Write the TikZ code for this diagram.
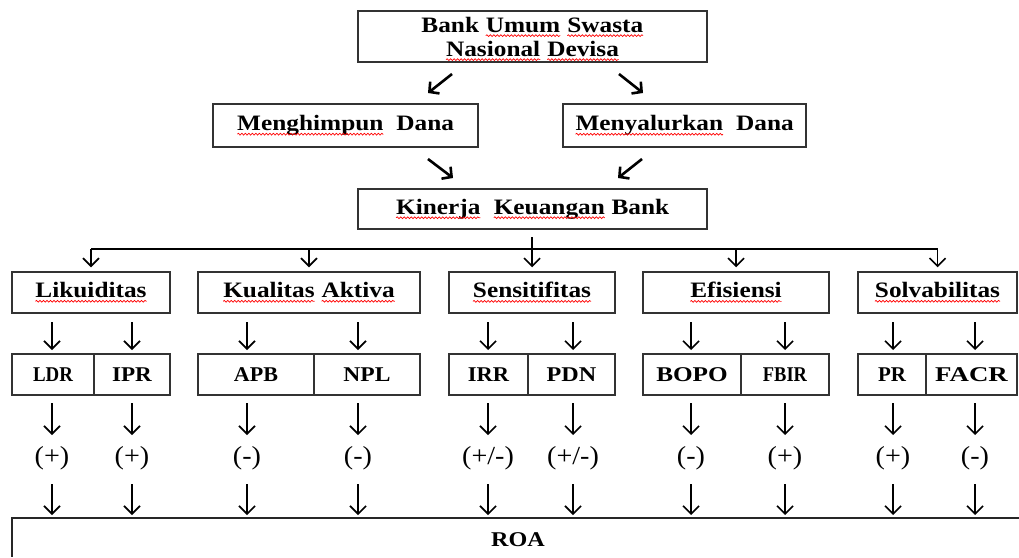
\documentclass[tikz,border=0pt]{standalone}
\usepackage{graphicx}
\usepackage{fontspec}
\setmainfont{Liberation Serif}
\newfontfamily\widefont[FakeStretch=1.15]{Liberation Serif}
\usetikzlibrary{arrows.meta,decorations.pathmorphing}
\newcommand\rw[1]{\tikz[baseline=(w.base)]{\node[rectangle, draw=none, inner sep=0pt, outer sep=0pt, minimum width=0pt, minimum height=0pt, text depth=] (w) {#1};
  \draw[red, line width=0.7pt, decorate, decoration={snake, amplitude=0.9pt, segment length=3.5pt}] ([yshift=-3.5pt]w.base west) -- ([yshift=-3.5pt]w.base east);}}
\newcommand\sx[2]{\scalebox{#1}[1]{#2}}
\tikzset{
  box/.style={draw=black!80, line width=1.5pt, rectangle, inner sep=0pt,
    font=\widefont\bfseries\fontsize{22}{24}\selectfont, align=center},
  lbl/.style={draw=black!80, line width=1.5pt, rectangle, inner sep=0pt,
    minimum height=41pt, font=\bfseries\fontsize{21}{24}\selectfont},
  sgn/.style={inner sep=0pt, font=\fontsize{26}{28}\selectfont},
  arr/.style={line width=1.6pt, -{Straight Barb[length=8pt,width=16pt]}},
  darr/.style={line width=2.6pt, -{Straight Barb[length=7pt,width=15pt]}},
  brk/.style={line width=2pt},
}
\begin{document}
\begin{tikzpicture}[x=1pt,y=-1pt]
\useasboundingbox (0,0) rectangle (1019,557);
% top
\node[box, minimum width=349pt, minimum height=51pt, text depth=0pt] (bank) at (532.5,36.5)
  {Bank \rw{Umum} \rw{Swasta}\\\rw{Nasional} \rw{Devisa}};
\node[box, minimum width=265pt, minimum height=43pt] (himp) at (345.5,125.5)
  {\rw{Menghimpun}\ \ Dana};
\node[box, minimum width=243pt, minimum height=43pt] (salur) at (684.5,125.5)
  {\rw{Menyalurkan}\ \ Dana};
\node[box, minimum width=349pt, minimum height=40pt] (kin) at (532.5,209)
  {\rw{Kinerja}\ \ \rw{Keuangan} Bank};
\coordinate (d1a) at (452,74); \coordinate (d1b) at (428,93);
\coordinate (d2a) at (619,74); \coordinate (d2b) at (643,93);
\coordinate (d3a) at (428,159); \coordinate (d3b) at (453,178);
\coordinate (d4a) at (642,159); \coordinate (d4b) at (618,178);
\draw[darr] (d1a) -- (d1b);
\draw[darr] (d2a) -- (d2b);
\draw[darr] (d3a) -- (d3b);
\draw[darr] (d4a) -- (d4b);
% second row
\node[box, minimum width=158pt, minimum height=41pt] (liku) at (91,292.5) {\rw{Likuiditas}};
\node[box, minimum width=222pt, minimum height=41pt] (kual) at (309,292.5) {\rw{Kualitas} \rw{Aktiva}};
\node[box, minimum width=166pt, minimum height=41pt] (sens) at (532,292.5) {\rw{Sensitifitas}};
\node[box, minimum width=186pt, minimum height=41pt] (efis) at (736,292.5) {\rw{Efisiensi}};
\node[box, minimum width=159pt, minimum height=41pt] (solv) at (937.5,292.5) {\rw{Solvabilitas}};
\coordinate (bar) at (532,249);
\coordinate (kinb) at (532,237);
\draw[brk] (liku.north |- bar) -- (solv.north |- bar);
\draw[brk, arr, shorten >=4pt] (kinb) -- (sens.north);
\foreach \n in {liku,kual,efis,solv}
  \draw[brk, arr, shorten >=4pt] (\n.north |- bar) -- (\n.north);
% third row
\node[lbl, minimum width=82pt] (ldr) at (53,374.5) {\sx{0.9}{LDR}};
\node[lbl, minimum width=76pt] (ipr) at (132,374.5) {\sx{1.1}{IPR}};
\node[lbl, minimum width=116pt] (apb) at (256,374.5) {\sx{1.05}{APB}};
\node[lbl, minimum width=106pt] (npl) at (367,374.5) {\sx{1.12}{NPL}};
\node[lbl, minimum width=79pt] (irr) at (488.5,374.5) {\sx{1.07}{IRR}};
\node[lbl, minimum width=87pt] (pdn) at (571.5,374.5) {\sx{1.15}{PDN}};
\node[lbl, minimum width=98pt] (bopo) at (692,374.5) {\sx{1.2}{BOPO}};
\node[lbl, minimum width=88pt] (fbir) at (785,374.5) {\sx{0.88}{FBIR}};
\node[lbl, minimum width=68pt] (pr) at (892,374.5) {PR};
\node[lbl, minimum width=91pt] (facr) at (971.5,374.5) {\sx{1.28}{FACR}};
% signs
\foreach \i/\x/\s in {1/52/{(+)},2/132/{(+)},3/247/{(-)},4/358/{(-)},5/488/{(+/-)},6/573/{(+/-)},7/691/{(-)},8/785/{(+)},9/893/{(+)},10/975/{(-)}}{
  \node[sgn] (s\i) at (\x,458) {\sx{1.08}{\s}};
  \coordinate (a\i) at (\x,322); \coordinate (b\i) at (\x,350);
  \coordinate (c\i) at (\x,403); \coordinate (e\i) at (\x,435);
  \coordinate (f\i) at (\x,484); \coordinate (g\i) at (\x,515);
  \draw[arr] (a\i) -- (b\i);
  \draw[arr] (c\i) -- (e\i);
  \draw[arr] (f\i) -- (g\i);
}
% ROA
\node[inner sep=0pt, font=\widefont\bfseries\fontsize{21}{24}\selectfont] (roa) at (518,540) {ROA};
\coordinate (roaR) at (1019,518);
\coordinate (roaC) at (12,518);
\coordinate (roaB) at (12,557);
\draw[line width=1.5pt, black!85] (roaR) -- (roaC) -- (roaB);
\end{tikzpicture}
\end{document}
